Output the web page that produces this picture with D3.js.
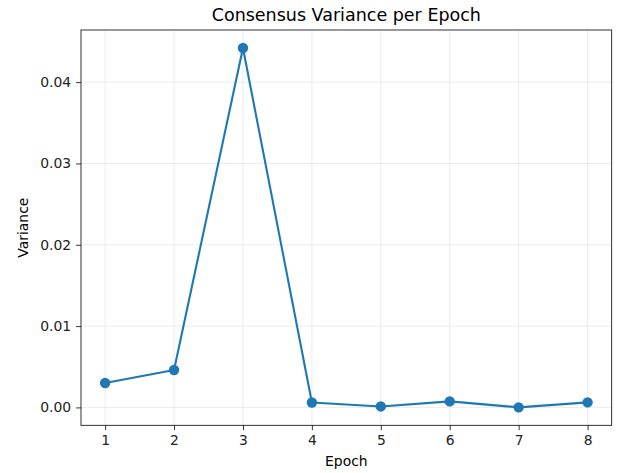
<!DOCTYPE html>
<html><head><meta charset="utf-8">
<script src="https://cdn.jsdelivr.net/npm/d3@7"></script>
<style>body{margin:0;background:#fff}svg{display:block;font-family:"DejaVu Sans",sans-serif}</style>
</head><body>
<svg id="chart" width="618" height="473"></svg>
<script>
const epochs = [1, 2, 3, 4, 5, 6, 7, 8];
const variances = [0.0030, 0.0046, 0.0442, 0.0006, 0.00012, 0.00074, 0.00001, 0.00062];
const xTicks = [1, 2, 3, 4, 5, 6, 7, 8];
const yTicks = [0.00, 0.01, 0.02, 0.03, 0.04];
const titleText = "Consensus Variance per Epoch";
const xLabel = "Epoch";
const yLabel = "Variance";

(function () {
const svg = d3.select("#chart");
const pL = 81, pR = 611.7, pT = 30, pB = 425.3;
const color = "#1f77b4";

const x = d3.scaleLinear().domain([0.65, 8.35]).range([pL, pR]);
const yMin = d3.min(variances), yMax = d3.max(variances), pad = (yMax - yMin) * 0.05;
const y = d3.scaleLinear().domain([yMin - pad, yMax + pad]).range([pB, pT]);

// grid
svg.append("g").selectAll("line").data(xTicks).join("line")
  .attr("x1", d => x(d)).attr("x2", d => x(d)).attr("y1", pT).attr("y2", pB)
  .attr("stroke", "#b0b0b0").attr("stroke-opacity", 0.3).attr("stroke-width", 0.8);
svg.append("g").selectAll("line").data(yTicks).join("line")
  .attr("y1", d => y(d)).attr("y2", d => y(d)).attr("x1", pL).attr("x2", pR)
  .attr("stroke", "#b0b0b0").attr("stroke-opacity", 0.3).attr("stroke-width", 0.8);

// axes
const xAxis = d3.axisBottom(x).tickValues(xTicks).tickFormat(d3.format("d")).tickSize(4.9).tickPadding(4.9);
const yAxis = d3.axisLeft(y).tickValues(yTicks).tickFormat(d3.format(".2f")).tickSize(4.9).tickPadding(4.9);
const gx = svg.append("g").attr("transform", `translate(0,${pB})`).call(xAxis);
const gy = svg.append("g").attr("transform", `translate(${pL},0)`).call(yAxis);
[gx, gy].forEach(g => {
  g.select(".domain").remove();
  g.selectAll(".tick line").attr("stroke", "#000").attr("stroke-width", 0.8);
  g.selectAll(".tick text").attr("fill", "#222").attr("font-size", "13.9px").attr("font-family", "DejaVu Sans, sans-serif");
});

// frame
svg.append("rect").attr("x", pL).attr("y", pT).attr("width", pR - pL).attr("height", pB - pT)
  .attr("fill", "none").attr("stroke", "#000").attr("stroke-width", 0.8);

// line
const line = d3.line().x((d, i) => x(epochs[i])).y(d => y(d));
svg.append("path").datum(variances).attr("d", line)
  .attr("fill", "none").attr("stroke", color).attr("stroke-width", 2.1).attr("stroke-linejoin", "round");
svg.append("g").selectAll("circle").data(variances).join("circle")
  .attr("cx", (d, i) => x(epochs[i])).attr("cy", d => y(d)).attr("r", 5.2).attr("fill", color);

// title & labels
svg.append("text").attr("x", (pL + pR) / 2).attr("y", 21).attr("text-anchor", "middle")
  .attr("font-size", "17.5px").attr("fill", "#000").text(titleText);
svg.append("text").attr("x", (pL + pR) / 2).attr("y", 466).attr("text-anchor", "middle")
  .attr("font-size", "13.9px").attr("fill", "#000").text(xLabel);
svg.append("text").attr("transform", `translate(27.5,${(pT + pB) / 2}) rotate(-90)`).attr("text-anchor", "middle")
  .attr("font-size", "13.9px").attr("fill", "#000").text(yLabel);
})();
</script>
</body></html>
